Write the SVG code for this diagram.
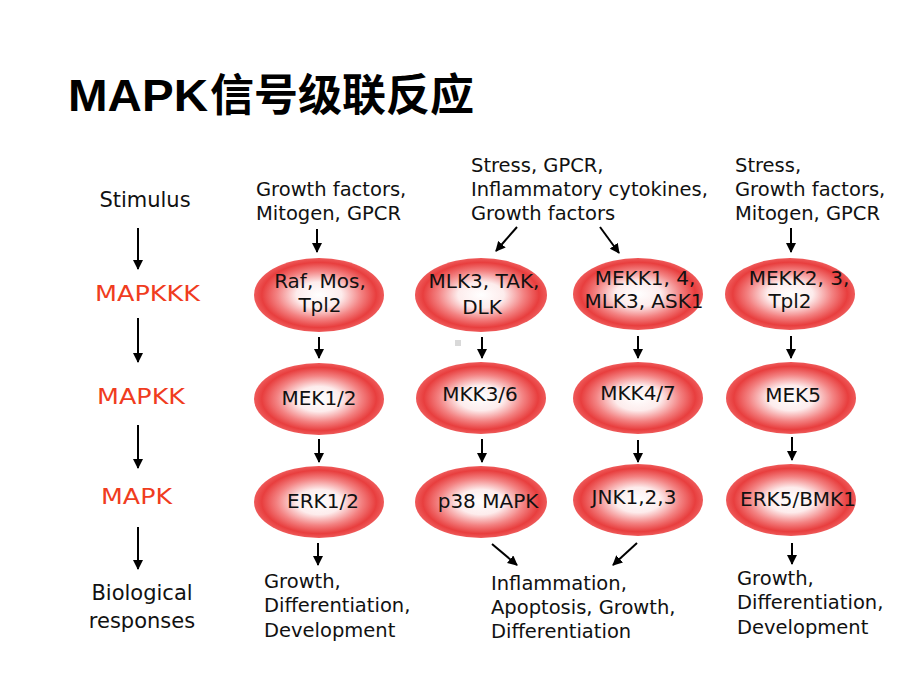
<svg xmlns="http://www.w3.org/2000/svg" width="920" height="690" viewBox="0 0 920 690">
<defs>
<radialGradient id="rg" cx="50%" cy="50%" r="50%">
<stop offset="0%" stop-color="#ffffff"/>
<stop offset="35%" stop-color="#fdecec"/>
<stop offset="65%" stop-color="#f38282"/>
<stop offset="88%" stop-color="#e83e3e"/>
<stop offset="100%" stop-color="#ee5a5a"/>
</radialGradient>
<marker id="ah" viewBox="0 0 10 10" refX="9" refY="5" markerWidth="5" markerHeight="5" orient="auto" markerUnits="strokeWidth">
<path d="M0,0 L10,5 L0,10 z" fill="#000"/>
</marker>
<style>
.t{font-family:"DejaVu Sans","Liberation Sans",sans-serif;font-size:19.5px;fill:#111}
.n{font-family:"DejaVu Sans","Liberation Sans",sans-serif;font-size:20px;fill:#111;text-anchor:middle}
.r{font-family:"DejaVu Sans","Liberation Sans",sans-serif;font-size:21px;fill:#f03c1e}
.l{font-family:"DejaVu Sans","Liberation Sans",sans-serif;font-size:21px;fill:#111;text-anchor:middle}
.e{fill:url(#rg)}
.c line{stroke:#000;stroke-width:2;marker-end:url(#ah)}
</style>
</defs>
<rect width="920" height="690" fill="#fff"/>
<g id="title" font-weight="bold" fill="#000">
<text x="68" y="111" font-family="'Liberation Sans',sans-serif" font-size="44" textLength="140" lengthAdjust="spacingAndGlyphs">MAPK</text>
<text x="210" y="111" font-family="'Noto Sans CJK SC',sans-serif" font-size="44">信号级联反应</text>
</g>

<g id="left-labels">
<text class="l" x="145" y="207">Stimulus</text>
<text class="r" x="95" y="301" textLength="105" lengthAdjust="spacingAndGlyphs">MAPKKK</text>
<text class="r" x="97" y="404" textLength="88" lengthAdjust="spacingAndGlyphs">MAPKK</text>
<text class="r" x="101" y="504" textLength="71" lengthAdjust="spacingAndGlyphs">MAPK</text>
<text class="l" x="142" y="600">Biological</text>
<text class="l" x="142" y="628">responses</text>
</g>

<g id="stimuli">
<text class="t" x="256" y="196">Growth factors,</text>
<text class="t" x="256" y="220">Mitogen, GPCR</text>
<text class="t" x="471" y="172">Stress, GPCR,</text>
<text class="t" x="471" y="196">Inflammatory cytokines,</text>
<text class="t" x="471" y="220">Growth factors</text>
<text class="t" x="735" y="172">Stress,</text>
<text class="t" x="735" y="196">Growth factors,</text>
<text class="t" x="735" y="220">Mitogen, GPCR</text>
</g>

<g id="n-raf"><ellipse class="e" cx="319" cy="295" rx="65" ry="37"/><text class="n" x="320" y="288">Raf, Mos,</text><text class="n" x="320" y="312">Tpl2</text></g>
<g id="n-mlk3"><ellipse class="e" cx="481" cy="295" rx="66" ry="37"/><text class="n" x="484" y="288">MLK3, TAK,</text><text class="n" x="482" y="314">DLK</text></g>
<g id="n-mekk1"><ellipse class="e" cx="638" cy="294" rx="65" ry="36"/><text class="n" x="645" y="285">MEKK1, 4,</text><text class="n" x="644" y="308">MLK3, ASK1</text></g>
<g id="n-mekk2"><ellipse class="e" cx="790" cy="294" rx="65" ry="36"/><text class="n" x="799" y="285">MEKK2, 3,</text><text class="n" x="790" y="308">Tpl2</text></g>

<g id="n-mek12"><ellipse class="e" cx="319" cy="399" rx="65" ry="36"/><text class="n" x="319" y="405">MEK1/2</text></g>
<g id="n-mkk36"><ellipse class="e" cx="481" cy="398" rx="65" ry="36"/><text class="n" x="480" y="401">MKK3/6</text></g>
<g id="n-mkk47"><ellipse class="e" cx="638" cy="398" rx="65" ry="36"/><text class="n" x="638" y="400">MKK4/7</text></g>
<g id="n-mek5"><ellipse class="e" cx="791" cy="398" rx="65" ry="36"/><text class="n" x="793" y="402">MEK5</text></g>

<g id="n-erk12"><ellipse class="e" cx="319" cy="502" rx="65" ry="36"/><text class="n" x="323" y="508">ERK1/2</text></g>
<g id="n-p38"><ellipse class="e" cx="481" cy="502" rx="66" ry="36"/><text class="n" x="488" y="508">p38 MAPK</text></g>
<g id="n-jnk"><ellipse class="e" cx="638" cy="500" rx="65" ry="36"/><text class="n" x="634" y="504">JNK1,2,3</text></g>
<g id="n-erk5"><ellipse class="e" cx="791" cy="500" rx="65" ry="36"/><text class="n" x="798" y="506">ERK5/BMK1</text></g>

<g id="responses">
<text class="t" x="264" y="588">Growth,</text>
<text class="t" x="264" y="612">Differentiation,</text>
<text class="t" x="264" y="637">Development</text>
<text class="t" x="491" y="590">Inflammation,</text>
<text class="t" x="491" y="614">Apoptosis, Growth,</text>
<text class="t" x="491" y="638">Differentiation</text>
<text class="t" x="737" y="585">Growth,</text>
<text class="t" x="737" y="609">Differentiation,</text>
<text class="t" x="737" y="634">Development</text>
</g>

<rect x="455" y="340" width="6" height="6" fill="#d9d9d9"/>

<g id="connectors" class="c">
<line x1="138" y1="228" x2="138" y2="269"/>
<line x1="138" y1="318" x2="138" y2="362"/>
<line x1="138" y1="425" x2="138" y2="468"/>
<line x1="138" y1="527" x2="138" y2="569"/>

<line x1="317" y1="229" x2="317" y2="252"/>
<line x1="517" y1="227" x2="496" y2="251"/>
<line x1="600" y1="227" x2="619" y2="253"/>
<line x1="791" y1="228" x2="791" y2="252"/>

<line x1="319" y1="337" x2="319" y2="358"/>
<line x1="482" y1="337" x2="482" y2="358"/>
<line x1="638" y1="336" x2="638" y2="358"/>
<line x1="791" y1="336" x2="791" y2="358"/>

<line x1="319" y1="439" x2="319" y2="462"/>
<line x1="482" y1="439" x2="482" y2="462"/>
<line x1="638" y1="440" x2="638" y2="462"/>
<line x1="792" y1="437" x2="792" y2="460"/>

<line x1="318" y1="543" x2="318" y2="565"/>
<line x1="492" y1="544" x2="517" y2="565"/>
<line x1="637" y1="543" x2="613" y2="565"/>
<line x1="792" y1="543" x2="792" y2="564"/>
</g>
</svg>
